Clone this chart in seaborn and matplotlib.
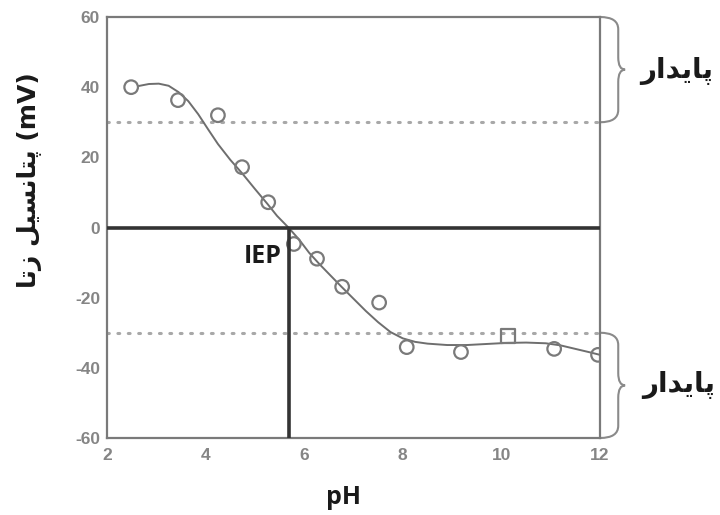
import matplotlib
matplotlib.use("Agg")
import matplotlib.pyplot as plt
import numpy as np
import pandas as pd
import seaborn as sns
from matplotlib.path import Path
from matplotlib.patches import PathPatch

# ---------------- data ----------------
ph = [2.49, 3.44, 4.25, 4.74, 5.27, 5.79, 6.26, 6.77, 7.52, 8.08, 9.18, 10.13, 11.07, 11.96]
zeta = [40.0, 36.3, 32.0, 17.2, 7.2, -4.7, -8.9, -16.9, -21.4, -34.1, -35.5, -31.0, -34.6, -36.3]
marker_kind = ["o", "o", "o", "o", "o", "o", "o", "o", "o", "o", "o", "s", "o", "o"]

curve_ph = [2.63, 2.85, 3.05, 3.25, 3.45, 3.65, 3.85, 4.05, 4.25, 4.5, 4.75, 5.0, 5.25, 5.45,
            5.68, 5.9, 6.1, 6.3, 6.5, 6.75, 7.0, 7.25, 7.5, 7.75, 8.0, 8.25, 8.5, 8.9, 9.3,
            9.7, 10.1, 10.5, 10.9, 11.2, 11.5, 11.8, 12.0]
curve_zeta = [40.3, 40.9, 41.0, 40.4, 38.6, 36.0, 32.3, 28.0, 23.8, 19.3, 15.3, 11.0, 6.8, 3.3,
              0.0, -3.5, -7.2, -10.3, -13.2, -16.8, -20.3, -23.8, -27.0, -29.8, -31.6, -32.6,
              -33.1, -33.5, -33.5, -33.2, -32.9, -32.8, -33.0, -33.6, -34.6, -35.6, -36.3]

iep = 5.7
stable_limit = 30
xticks = [2, 4, 6, 8, 10, 12]
yticks = [-60, -40, -20, 0, 20, 40, 60]

stable_label = "پایدار"
y_label_fa = "پتانسیل زتا"
y_label_unit = "(mV)"
x_label = "pH"
iep_label = "IEP"

# ---------------- minimal Arabic/Persian shaping ----------------
FORMS = {
    "ا": (0xFE8D, 0xFE8E, None, None),
    "پ": (0xFB56, 0xFB57, 0xFB58, 0xFB59),
    "ی": (0xFBFC, 0xFBFD, 0xFBFE, 0xFBFF),
    "د": (0xFEA9, 0xFEAA, None, None),
    "ر": (0xFEAD, 0xFEAE, None, None),
    "ز": (0xFEAF, 0xFEB0, None, None),
    "ت": (0xFE95, 0xFE96, 0xFE97, 0xFE98),
    "ن": (0xFEE5, 0xFEE6, 0xFEE7, 0xFEE8),
    "س": (0xFEB1, 0xFEB2, 0xFEB3, 0xFEB4),
    "ل": (0xFEDD, 0xFEDE, 0xFEDF, 0xFEE0),
}


def joins_left(ch):
    return ch in FORMS and FORMS[ch][2] is not None


def shape_rtl(text):
    out = []
    n = len(text)
    for i, ch in enumerate(text):
        if ch not in FORMS:
            out.append(ch)
            continue
        iso, fin, ini, med = FORMS[ch]
        prev_j = i > 0 and joins_left(text[i - 1])
        next_j = i < n - 1 and text[i + 1] in FORMS and ini is not None
        if prev_j and next_j:
            cp = med
        elif prev_j:
            cp = fin
        elif next_j:
            cp = ini
        else:
            cp = iso
        out.append(chr(cp))
    return "".join(out)[::-1]


# ---------------- figure ----------------
sns.set_style("white")
plt.rcParams["font.family"] = ["Liberation Sans", "DejaVu Sans"]
plt.rcParams["axes.unicode_minus"] = False

fig = plt.figure(figsize=(7.2, 5.15), dpi=100)
ax = fig.add_axes([107 / 720, 77 / 515, 493 / 720, 421 / 515])

df_pts = pd.DataFrame({"ph": ph, "zeta": zeta, "kind": marker_kind})
df_curve = pd.DataFrame({"ph": curve_ph, "zeta": curve_zeta})

grey = "#7a7a7a"

# dotted stability thresholds
ax.axhline(stable_limit, color="#a8a8a8", lw=2.2, ls=(0, (0.6, 2.8)), dash_capstyle="round", zorder=1)
ax.axhline(-stable_limit, color="#a8a8a8", lw=2.2, ls=(0, (0.6, 2.8)), dash_capstyle="round", zorder=1)

# fitted curve
sns.lineplot(data=df_curve, x="ph", y="zeta", sort=False, color="#6e6e6e", lw=1.4, ax=ax, zorder=3)

# measured points
sns.scatterplot(data=df_pts, x="ph", y="zeta", style="kind", markers={"o": "o", "s": "s"},
                s=95, facecolor="none", edgecolor="#7a7a7a", linewidth=1.6, legend=False,
                ax=ax, zorder=4)

# zero line and IEP line
ax.axhline(0, color="#333333", lw=2.6, zorder=5)
ax.plot([iep, iep], [-60, 0], color="#333333", lw=2.6, zorder=5, solid_capstyle="butt")

ax.set_xlim(2, 12)
ax.set_ylim(-60, 60)
ax.set_xticks(xticks)
ax.set_yticks(yticks)
ax.set_xlabel("")
ax.set_ylabel("")
ax.tick_params(direction="in", length=5, width=1.2, color=grey, labelcolor="#858585",
               labelsize=12.5)
ax.tick_params(axis="x", pad=7)
ax.tick_params(axis="y", pad=5)
for lab in ax.get_xticklabels() + ax.get_yticklabels():
    lab.set_fontweight("bold")
for sp in ax.spines.values():
    sp.set_color(grey)
    sp.set_linewidth(1.6)
    sp.set_visible(True)


# curly braces on the right
def brace(y_top, y_bot, x0=12.0, x1=12.37, x2=12.51, d=3.5):
    ym = (y_top + y_bot) / 2
    verts = [(x0, y_top), (x1, y_top), (x1, y_top - d),
             (x1, ym + d), (x1, ym), (x2, ym),
             (x1, ym), (x1, ym - d),
             (x1, y_bot + d), (x1, y_bot), (x0, y_bot)]
    codes = [Path.MOVETO, Path.CURVE3, Path.CURVE3,
             Path.LINETO, Path.CURVE3, Path.CURVE3,
             Path.CURVE3, Path.CURVE3,
             Path.LINETO, Path.CURVE3, Path.CURVE3]
    p = PathPatch(Path(verts, codes), fill=False, edgecolor="#8a8a8a", lw=1.5, clip_on=False)
    ax.add_patch(p)


brace(60, stable_limit)
brace(-stable_limit, -60)

fa_font = ["DejaVu Sans"]
ax.text(13.55, 44.5, shape_rtl(stable_label), ha="center", va="center", fontsize=20,
        fontweight="bold", color="#1a1a1a", family=fa_font, clip_on=False)
ax.text(13.6, -45, shape_rtl(stable_label), ha="center", va="center", fontsize=20,
        fontweight="bold", color="#1a1a1a", family=fa_font, clip_on=False)

ax.text(5.55, -8.3, iep_label, ha="right", va="center", fontsize=18, fontweight="bold",
        color="#1a1a1a", family=["Open Sans", "DejaVu Sans"])

fig.text(344 / 720, 1 - 497 / 515, x_label, ha="center", va="center", fontsize=18,
         fontweight="bold", color="#1a1a1a", family=["Open Sans", "DejaVu Sans"])
fig.text(30 / 720, 1 - 180 / 515, shape_rtl(y_label_fa) + " " + y_label_unit, rotation=90,
         ha="center", va="center", fontsize=18, fontweight="bold", color="#1a1a1a",
         family=["DejaVu Sans"])

fig.savefig("out.png", dpi=100, facecolor="white")
